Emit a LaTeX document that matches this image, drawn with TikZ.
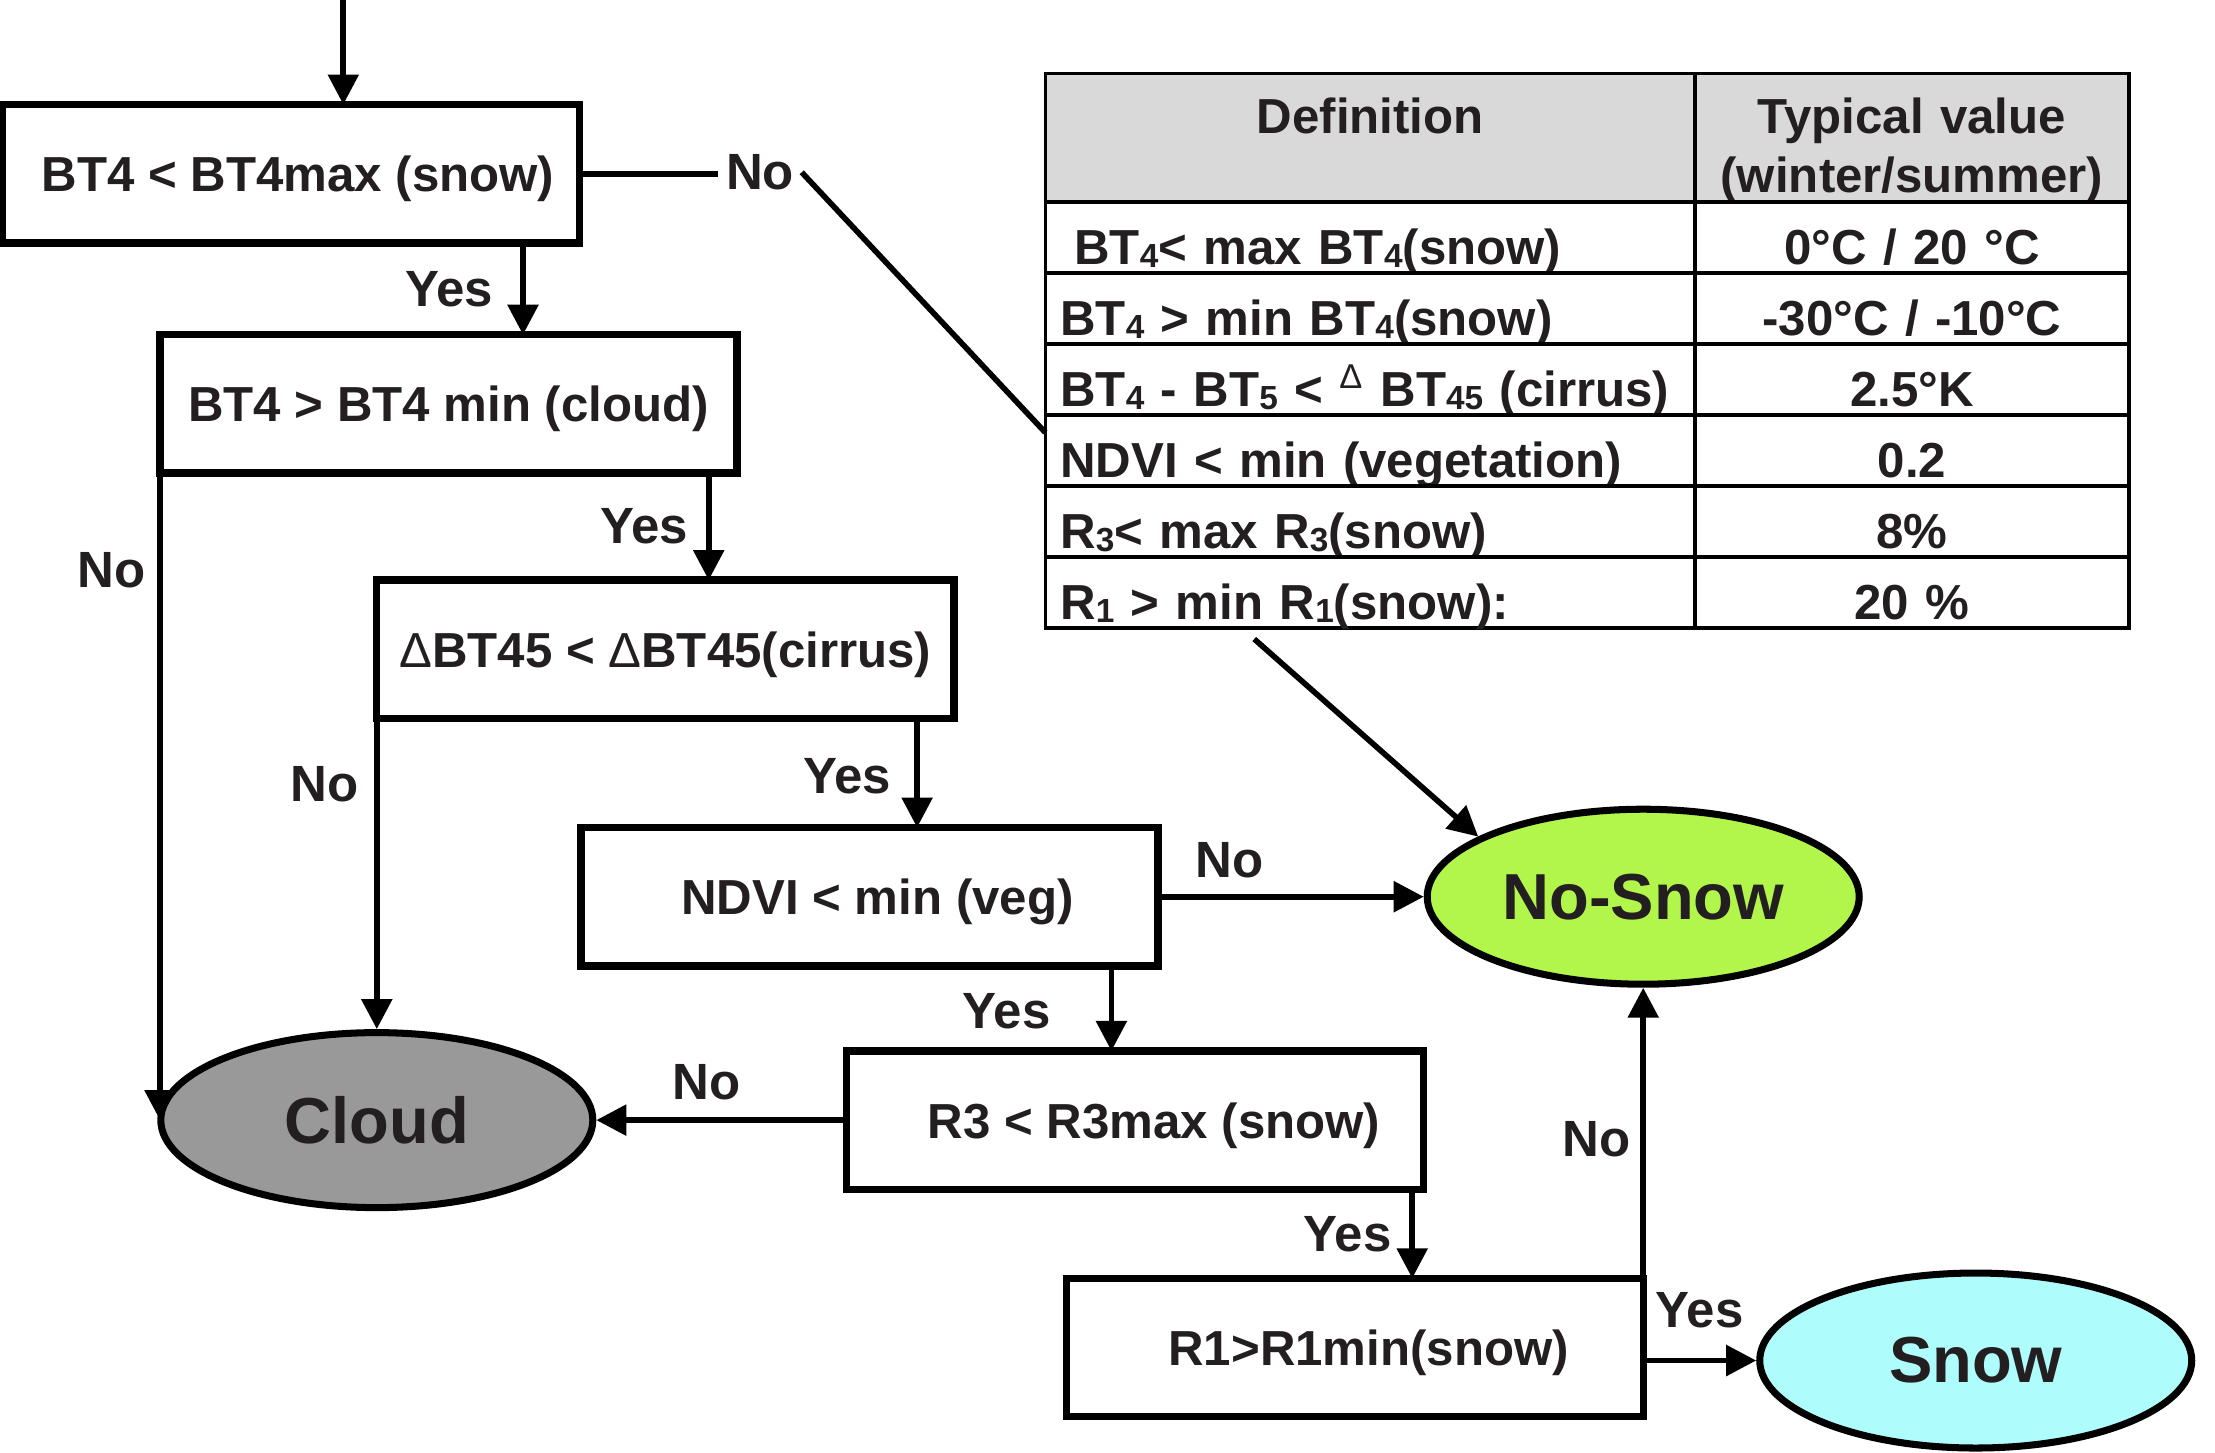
\documentclass[tikz,border=0pt]{standalone}
\usepackage{fontspec}
\setmainfont{Liberation Sans}
\usetikzlibrary{shapes.geometric, arrows.meta, positioning}
\definecolor{InkColor}{HTML}{231F20}
\definecolor{CloudGray}{HTML}{999999}
\definecolor{NoSnowGreen}{HTML}{B2F54B}
\definecolor{SnowCyan}{HTML}{AEFCFC}
\definecolor{HeadGray}{HTML}{D9D9D9}
\newcommand{\bandsub}[1]{\raisebox{-0.8pt}{\fontsize{9.5}{9.5}\selectfont#1}}

\begin{document}
\begin{tikzpicture}[
    font=\fontsize{14}{16.8}\selectfont\bfseries,
    cond/.style={rectangle, draw=black, line width=2.1pt, minimum width=5.77cm, minimum height=1.384cm, outer sep=0pt, inner sep=0pt, text height=0.36cm, text depth=0pt, text=InkColor},
    verdict/.style={ellipse, draw=black, line width=2pt, minimum width=4.32cm, minimum height=1.75cm, inner sep=0pt, text=InkColor, font=\fontsize{18.5}{22}\selectfont\bfseries},
    cell/.style={rectangle, draw=black, line width=1pt, outer sep=0pt, inner xsep=0.15cm, inner ysep=0pt, minimum height=0.71cm, text=InkColor},
    hcell/.style={cell, fill=HeadGray, align=center, minimum height=1.285cm, text height=0.5cm, text depth=0.59cm},
    defcell/.style={cell, text width=6.198cm, align=left, text height=0.54cm, text depth=0pt},
    valcell/.style={cell, text width=4.037cm, align=center, text height=0.54cm, text depth=0pt},
    ans/.style={text=InkColor, font=\fontsize{14.5}{17}\selectfont\bfseries, inner sep=2pt},
    arr/.style={-{Triangle[length=0.3cm, width=0.3cm]}, line width=1.6pt},
    link/.style={line width=1.6pt}
  ]
  \useasboundingbox (0,0) rectangle (22.15,-14.52);

  % decision chain
  \node[cond] (b1) at (2.91,-1.737) {\hspace*{0.14cm}BT4 < BT4max (snow)};
  \node[cond, below=0.918cm of b1, xshift=1.575cm] (b2) {BT4 > BT4 min (cloud)};
  \node[cond, below=1.07cm of b2, xshift=2.168cm] (b3) {{\mdseries Δ}BT45 < {\mdseries Δ}BT45(cirrus)};
  \node[cond, below=1.09cm of b3, xshift=2.042cm] (b4) {\hspace*{0.16cm}NDVI < min (veg)};
  \node[cond, below=0.85cm of b4, xshift=2.655cm] (b5) {\hspace*{0.38cm}R3 < R3max (snow)};
  \node[cond, below=0.89cm of b5, xshift=2.197cm] (b6) {\hspace*{0.28cm}R1>R1min(snow)};

  % outcomes
  \node[verdict, fill=CloudGray] (cloud) at (b3.south west |- b5.west) {Cloud};
  \node[verdict, fill=NoSnowGreen] (nosnow) at (b6.east |- b4.east) {No-Snow};
  \node[verdict, fill=SnowCyan, right=1.13cm of b6, yshift=-0.13cm] (snow) {Snow};

  % threshold table
  \node[hcell, text width=6.198cm] (hdef) at (13.702,-1.3775) {Definition\\\strut};
  \node[hcell, text width=4.037cm, right=0pt of hdef] (hval) {Typical value\\(winter/summer)};
  \node[defcell, below=0pt of hdef] (r1def) {\hspace*{0.14cm}BT\bandsub{4}< max BT\bandsub{4}(snow)};
  \node[valcell, right=0pt of r1def] (r1val) {0°C / 20 °C};
  \node[defcell, below=0pt of r1def] (r2def) {BT\bandsub{4} > min BT\bandsub{4}(snow)};
  \node[valcell, right=0pt of r2def] (r2val) {-30°C / -10°C};
  \node[defcell, below=0pt of r2def] (r3def) {BT\bandsub{4} - BT\bandsub{5} < \textsuperscript{\mdseries Δ} BT\bandsub{45} (cirrus)};
  \node[valcell, right=0pt of r3def] (r3val) {2.5°K};
  \node[defcell, below=0pt of r3def] (r4def) {NDVI < min (vegetation)};
  \node[valcell, right=0pt of r4def] (r4val) {0.2};
  \node[defcell, below=0pt of r4def] (r5def) {R\bandsub{3}< max R\bandsub{3}(snow)};
  \node[valcell, right=0pt of r5def] (r5val) {8\%};
  \node[defcell, below=0pt of r5def] (r6def) {R\bandsub{1} > min R\bandsub{1}(snow):};
  \node[valcell, right=0pt of r6def] (r6val) {20 \%};

  % taps for the Yes arrows
  \coordinate (entry) at (3.433,0);
  \coordinate (t12) at ([xshift=-0.565cm]b1.south east);
  \coordinate (t23) at ([xshift=-0.283cm]b2.south east);
  \coordinate (t34) at ([xshift=-0.367cm]b3.south east);
  \coordinate (t45) at ([xshift=-0.466cm]b4.south east);
  \coordinate (t56) at ([xshift=-0.113cm]b5.south east);

  \draw[arr] (entry) -- (entry |- b1.north);
  \node[ans] (nob1) at (7.6,-1.723) {No};
  \draw[link] (b1.east) -- (b1.east -| nob1.west);
  \draw[link] (nob1.east) -- ([yshift=0.18cm]r4def.west);

  \draw[arr] (t12) -- node[ans, left=0.2cm] {Yes} (t12 |- b2.north);
  \draw[arr] (b2.south west) -- node[ans, pos=0.15, left=0.05cm] {No} (b2.south west |- cloud.west);
  \draw[arr] (t23) -- node[ans, left=0.11cm] {Yes} (t23 |- b3.north);
  \draw[arr] (b3.south west) -- node[ans, pos=0.21, left=0.085cm] {No} (cloud.north);
  \draw[arr] (t34) -- node[ans, pos=0.53, left=0.16cm] {Yes} (t34 |- b4.north);
  \draw[arr] (b4.east) -- node[ans, pos=0.27, above=0.085cm] {No} (nosnow.west);
  \draw[arr] (t45) -- node[ans, pos=0.53, left=0.51cm] {Yes} (t45 |- b5.north);
  \draw[arr] (b5.west) -- node[ans, pos=0.56, above=0.1cm] {No} (cloud.east);
  \draw[arr] (t56) -- node[ans, left=0.11cm] {Yes} (t56 |- b6.north);
  \draw[arr] (b6.north east) -- node[ans, pos=0.48, left=0.03cm] {No} (nosnow.south);
  \draw[arr] (b6.east |- snow.west) -- node[ans, above=0.23cm] {Yes} (snow.west);
  \draw[arr] ([xshift=-1.16cm,yshift=-0.11cm]r6def.south) -- (nosnow.160);
\end{tikzpicture}
\end{document}
